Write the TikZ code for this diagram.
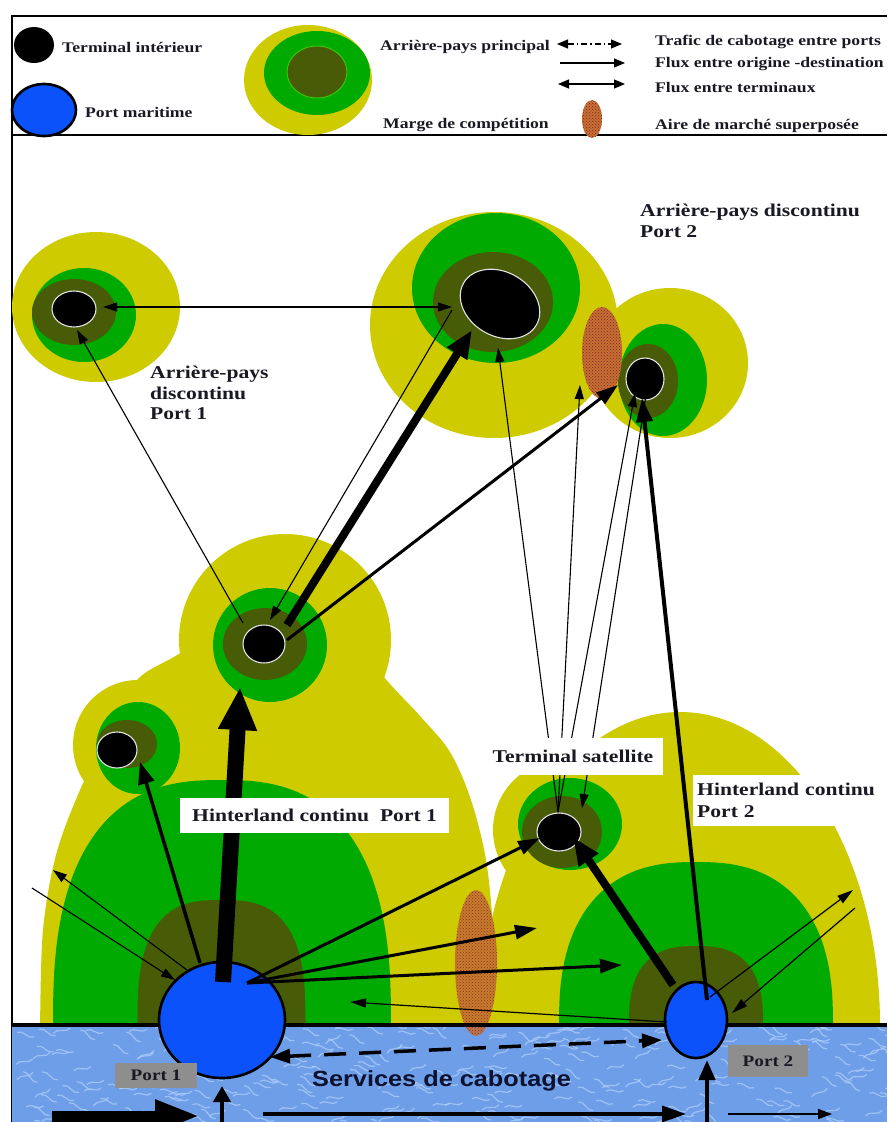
\documentclass[tikz,border=0pt]{standalone}
\usepackage{fontspec}
\newfontfamily\tnr[FakeStretch=1.2]{Liberation Serif}
\newfontfamily\arl[FakeStretch=1.15]{Liberation Sans}
\usetikzlibrary{arrows.meta,shapes.geometric,patterns}

\definecolor{hyel}{RGB}{206,203,0}
\definecolor{hgrn}{RGB}{0,170,0}
\definecolor{holv}{RGB}{72,92,8}
\definecolor{pblue}{RGB}{12,82,250}
\definecolor{seabl}{RGB}{110,158,232}
\definecolor{foam}{RGB}{178,210,252}
\definecolor{hatchbase}{RGB}{196,112,52}
\definecolor{hatchdot}{RGB}{140,30,35}
\definecolor{lblgray}{RGB}{142,142,142}
\definecolor{txt}{RGB}{25,25,35}
\definecolor{navy}{RGB}{12,18,48}

\begin{document}
\begin{tikzpicture}[x=1pt,y=-1pt,
  core/.style={ellipse,fill=black,draw=white!78!gray,line width=1.1pt,inner sep=0pt},
  port/.style={ellipse,fill=pblue,draw=black,line width=2.6pt,inner sep=0pt},
  lbl/.style={font=\tnr\bfseries\fontsize{18pt}{21pt}\selectfont,text=txt,inner sep=0pt,align=left},
  leg/.style={font=\tnr\bfseries\fontsize{14.7pt}{16pt}\selectfont,text=txt,anchor=west,inner sep=0pt},
  wbox/.style={fill=white,inner ysep=0pt,font=\tnr\bfseries\fontsize{18pt}{22pt}\selectfont,text=txt},
  gbox/.style={fill=lblgray,inner sep=0pt,font=\tnr\bfseries\fontsize{16pt}{18pt}\selectfont,text=txt},
  hatch/.style={fill=hatchbase,postaction={pattern=crosshatch dots,pattern color=hatchdot}},
  fthin/.style={line width=1.1pt,-{Triangle[length=14pt,width=9pt]}},
  fthinb/.style={line width=1.1pt,{Triangle[length=14pt,width=9pt]}-{Triangle[length=14pt,width=9pt]}},
  fmed/.style={line width=3pt,-{Triangle[length=22pt,width=14pt]}},
  fbold/.style={line width=8pt,-{Triangle[length=28pt,width=22pt]}},
  fhuge/.style={line width=16pt,-{Triangle[length=43pt,width=36pt]}},
  frame/.style={line width=2.5pt,draw=black}
  ]
\useasboundingbox (0,0) rectangle (887,1122);
\clip (0,0) rectangle (887,1122);
\fill[white] (0,0) rectangle (887,1122);

% ---------- frame and legend ----------
\draw[frame] (887,16) -- (12,16) -- (12,1122);
\draw[frame] (12,135) -- (887,135);

\node[ellipse,fill=black,inner sep=0pt,minimum width=40,minimum height=36] (lgterm) at (34,45) {};
\node[leg] (lgtermtx) at (62,47) {Terminal intérieur};
\node[port,minimum width=64,minimum height=52] (lgport) at (44,110) {};
\node[leg] (lgporttx) at (85,112) {Port maritime};

\fill[hyel] (308,80) ellipse [x radius=64pt,y radius=55pt];
\fill[hgrn] (317,73) ellipse [x radius=53pt,y radius=42pt];
\filldraw[fill=holv,draw=green!55!olive,line width=1pt] (317,72) ellipse [x radius=30pt,y radius=26pt];
\node[leg] (lgmain) at (380,47) {Arrière-pays principal};
\node[leg] (lgmarge) at (383,125) {Marge de compétition};

\coordinate (lga1) at (557,44); \coordinate (lga2) at (622,44);
\coordinate (lgb1) at (560,63); \coordinate (lgb2) at (625,63);
\coordinate (lgc1) at (558,84); \coordinate (lgc2) at (625,84);
\draw[line width=1.2pt,dash pattern=on 6pt off 3pt on 1.5pt off 3pt,
  {Triangle[length=11pt,width=9pt]}-{Triangle[length=11pt,width=9pt]}] (lga1) -- (lga2);
\draw[line width=1.2pt,-{Triangle[length=11pt,width=9pt]}] (lgb1) -- (lgb2);
\draw[line width=1.2pt,{Triangle[length=11pt,width=9pt]}-{Triangle[length=11pt,width=9pt]}] (lgc1) -- (lgc2);
\path[hatch] (592,119) ellipse [x radius=10pt,y radius=19pt];

\node[leg] (lgtraf) at (655,42) {Trafic de cabotage entre ports};
\node[leg] (lgflux) at (655,64) {Flux entre origine -destination};
\node[leg] (lgterm2) at (655,87) {Flux entre terminaux};
\node[leg] (lgaire) at (655,126) {Aire de marché superposée};

% ---------- hinterland surfaces (yellow) ----------
\fill[hyel] plot[smooth,tension=0.55] coordinates {(40,1040) (40,1025) (43,930) (56,855) (80,790) (110,730) (137,680) (182,652) (260,600) (330,600) (380,672) (420,716) (450,752) (471,800) (486,860) (493,930) (496,1025) (496,1040)} -- cycle;
\fill[hyel] (138,745) circle [radius=65pt];
\fill[hyel] (285,640) circle [radius=106pt];
\fill[hyel] (680,1025) ellipse [x radius=200pt,y radius=313pt];
\fill[hyel] (563,830) circle [radius=70pt];
\fill[hyel] (96,307) ellipse [x radius=84pt,y radius=75pt];
\fill[hyel] (494,325) ellipse [x radius=124pt,y radius=113pt];
\fill[hyel] (670,363) ellipse [x radius=78pt,y radius=75pt];

% ---------- main hinterlands (green): rounded domes ----------
\fill[hgrn] (391,1040) -- plot[domain=0.5:179.5,samples=71]
  ({222+169*cos(\x)*abs(cos(\x))^(-0.23)},{1025-245*abs(sin(\x))^0.77}) -- (53,1040) -- cycle;
\fill[hgrn] (833,1040) -- plot[domain=0.5:179.5,samples=71]
  ({696+137*cos(\x)*abs(cos(\x))^(-0.2)},{1025-163*abs(sin(\x))^0.8}) -- (559,1040) -- cycle;
\fill[hgrn] (138,748) ellipse [x radius=42pt,y radius=46pt];
\fill[hgrn] (270,645) circle [radius=57pt];
\fill[hgrn] (570,824) ellipse [x radius=52pt,y radius=46pt];
\fill[hgrn] (84,315) ellipse [x radius=52pt,y radius=47pt];
\fill[hgrn] (496,288) ellipse [x radius=84pt,y radius=75pt];
\fill[hgrn] (663,380) ellipse [x radius=44pt,y radius=56pt];

% ---------- competition margins (dark olive) ----------
\fill[holv] (306,1040) -- plot[domain=0.5:179.5,samples=71]
  ({221.5+84*cos(\x)*abs(cos(\x))^(-0.3)},{1025-125*abs(sin(\x))^0.7}) -- (137,1040) -- cycle;
\fill[holv] (763,1040) -- plot[domain=0.5:179.5,samples=71]
  ({696+67*cos(\x)*abs(cos(\x))^(-0.25)},{1025-79*abs(sin(\x))^0.75}) -- (629,1040) -- cycle;
\fill[holv] (127,744) ellipse [x radius=30pt,y radius=24pt];
\fill[holv] (265,644) ellipse [x radius=42pt,y radius=36pt];
\fill[holv] (562,832) ellipse [x radius=40pt,y radius=36pt];
\fill[holv] (74,312) ellipse [x radius=42pt,y radius=33pt];
\fill[holv] (493,302) ellipse [x radius=60pt,y radius=50pt];
\fill[holv] (648,381) ellipse [x radius=30pt,y radius=37pt];

% ---------- inland terminals ----------
\node[core,minimum width=44,minimum height=36] (td1) at (74,309) {};
\node[core,minimum width=84,minimum height=64,rotate=-30] (tdbig) at (500,304) {};
\node[core,minimum width=38,minimum height=42] (td2) at (645,379) {};
\node[core,minimum width=42,minimum height=38] (ttop) at (264,644) {};
\node[core,minimum width=40,minimum height=36] (tsmall) at (117,750) {};
\node[core,minimum width=44,minimum height=38] (tsat) at (559,832) {};

% ---------- overlapping market areas ----------
\path[hatch] (602,353) ellipse [x radius=20pt,y radius=46pt];

% ---------- sea ----------
\begin{scope}
  \clip (12,1025) rectangle (887,1122);
  \fill[seabl] (12,1025) rectangle (887,1122);
  \pgfmathsetseed{4242}
  \foreach \i in {1,...,320} {
    \pgfmathsetmacro\xx{12+885*rnd}
    \pgfmathsetmacro\yy{1022+104*rnd}
    \pgfmathsetmacro\aa{70*rnd-35}
    \draw[foam,line width=1.2pt,opacity=0.7,line cap=round,rotate around={\aa:(\xx,\yy)}]
      (\xx,\yy) .. controls +(5,-4) and +(-5,4) .. +(17,1);
  }
\end{scope}
\path[hatch,opacity=0.85] (476,963) ellipse [x radius=21pt,y radius=73pt];
\draw[line width=4pt] (12,1025) -- (887,1025);

% ---------- seaports ----------
\node[port,minimum width=126,minimum height=116] (p1) at (222,1020) {};
\node[port,minimum width=62,minimum height=76] (p2) at (696,1020) {};

% ---------- flows ----------
% Port 1
\coordinate (p1c) at (223,982);   \coordinate (ttopin) at (240,687);
\coordinate (p1l) at (200,963);   \coordinate (tsmallin) at (140,762);
\coordinate (p1w) at (187,970);   \coordinate (outw) at (53,870);
\coordinate (inw) at (32,888);    \coordinate (p1win) at (175,980);
\coordinate (p1e) at (247,983);
\coordinate (tsatin) at (540,838); \coordinate (midA) at (537,928); \coordinate (midB) at (622,965);
\coordinate (p2w) at (667,1022);  \coordinate (p1eback) at (350,1002);
\draw[fhuge] (p1c) -- (ttopin);
\draw[line width=3.5pt,-{Triangle[length=22pt,width=16pt]}] (p1l) -- (tsmallin);
\draw[fthin] (p1w) -- (outw);
\draw[fthin] (inw) -- (p1win);
\draw[fmed] (p1e) -- (tsatin);
\draw[fmed] (p1e) -- (midA);
\draw[fmed] (p1e) -- (midB);
\draw[line width=1.2pt,-{Triangle[length=16pt,width=9pt]}] (p2w) -- (p1eback);

% top inland terminal
\coordinate (ttopa) at (287,625);  \coordinate (tbigin) at (472,330);
\coordinate (tbigo) at (452,310);  \coordinate (ttopb) at (270,620);
\coordinate (ttopc) at (243,623);  \coordinate (td1in) at (77,330);
\coordinate (ttopd) at (287,640);  \coordinate (td2in) at (618,385);
\draw[fbold] (ttopa) -- (tbigin);
\draw[fthin] (tbigo) -- (ttopb);
\draw[fthin] (ttopc) -- (td1in);
\draw[fmed] (ttopd) -- (td2in);
\coordinate (td1e) at (103,307); \coordinate (tbigw) at (452,307);
\draw[fthinb] (td1e) -- (tbigw);

% satellite terminal
\coordinate (tsatn) at (558,812);
\coordinate (tbigs) at (498,348); \coordinate (hatchs) at (580,385); \coordinate (td2s) at (635,393);
\coordinate (td2b) at (646,395);  \coordinate (tsatne) at (582,808);
\draw[fthin] (tsatn) -- (tbigs);
\draw[fthin] (tsatn) -- (hatchs);
\draw[fthin] (tsatn) -- (td2s);
\draw[fthin] (td2b) -- (tsatne);

% Port 2
\coordinate (p2a) at (673,985);  \coordinate (tsatse) at (573,837);
\coordinate (p2b) at (707,1000); \coordinate (td2sb) at (642,398);
\coordinate (p2c) at (710,997);  \coordinate (oute) at (853,890);
\coordinate (ine) at (855,908);  \coordinate (p2in) at (732,1013);
\draw[fbold] (p2a) -- (tsatse);
\draw[line width=4pt,-{Triangle[length=24pt,width=16pt]}] (p2b) -- (td2sb);
\draw[line width=1.2pt,-{Triangle[length=16pt,width=9pt]}] (p2c) -- (oute);
\draw[line width=1.2pt,-{Triangle[length=16pt,width=9pt]}] (ine) -- (p2in);

% coastal shipping
\coordinate (cab1) at (270,1057); \coordinate (cab2) at (662,1040);
\draw[line width=3.5pt,dash pattern=on 22pt off 13pt,
  {Triangle[length=20pt,width=14pt]}-{Triangle[length=20pt,width=14pt]}] (cab1) -- (cab2);
\coordinate (sa1) at (52,1116);  \coordinate (sa2) at (200,1116);
\coordinate (sb1) at (222,1124); \coordinate (sb2) at (222,1086);
\coordinate (sc1) at (263,1114); \coordinate (sc2) at (686,1114);
\coordinate (sd1) at (707,1124); \coordinate (sd2) at (707,1060);
\coordinate (se1) at (728,1114); \coordinate (se2) at (832,1114);
\draw[line width=11pt,-{Triangle[length=45pt,width=30pt]}] (sa1) -- (sa2);
\draw[line width=4.5pt,-{Triangle[length=16pt,width=17pt]}] (sb1) -- (sb2);
\draw[line width=3.5pt,-{Triangle[length=24pt,width=16pt]}] (sc1) -- (sc2);
\draw[line width=4.5pt,-{Triangle[length=20pt,width=16pt]}] (sd1) -- (sd2);
\draw[line width=1.3pt,-{Triangle[length=14pt,width=10pt]}] (se1) -- (se2);

% ---------- labels ----------
\node[wbox,anchor=west,inner xsep=12pt,minimum height=35pt] (hc1) at (180,815) {Hinterland continu\ \ Port 1};
\node[wbox,inner xsep=10pt,minimum height=37pt] (tsatlbl) at (573,756) {Terminal satellite};
\node[wbox,anchor=north west,align=left,inner xsep=4pt,inner ysep=8pt,text width=196pt] (hc2) at (693,775) {Hinterland continu\\Port 2};
\node[lbl,anchor=north west] (ad2) at (640,204) {Arrière-pays discontinu\\Port 2};
\node[lbl,anchor=north west,font=\tnr\bfseries\fontsize{18pt}{20.5pt}\selectfont] (ad1) at (150,366) {Arrière-pays\\discontinu\\Port 1};
\node[gbox,minimum width=82pt,minimum height=25pt] (lp1) at (156,1075) {Port 1};
\node[gbox,minimum width=80pt,minimum height=32pt] (lp2) at (768,1061) {Port 2};
\node[anchor=west,inner sep=0pt,text=navy,font=\arl\bfseries\fontsize{22pt}{24pt}\selectfont] (cabo) at (312,1081) {Services de cabotage};
\end{tikzpicture}
\end{document}
